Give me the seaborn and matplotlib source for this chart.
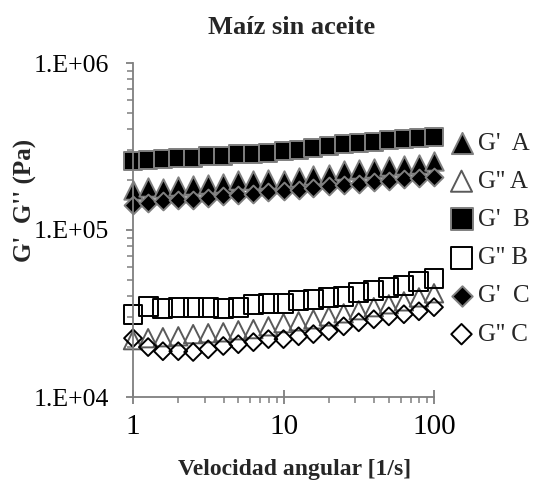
import matplotlib
matplotlib.use("Agg")
import matplotlib.pyplot as plt
from matplotlib.ticker import FixedLocator, FixedFormatter, LogLocator, NullFormatter
import pandas as pd
import seaborn as sns

# Angular frequency sweep (1/s)
freq = [1.0, 1.26, 1.58, 2.0, 2.51, 3.16, 3.98, 5.01, 6.31, 7.94, 10.0,
        12.6, 15.8, 20.0, 25.1, 31.6, 39.8, 50.1, 63.1, 79.4, 100.0]

# Storage (G') and loss (G'') moduli, Pa
g1_a = [174500, 181100, 179400, 183600, 185100, 189500, 192100, 198300, 200200, 203000, 200200,
        207800, 212400, 217400, 227500, 232900, 235100, 241700, 243700, 249500, 257400]
g2_a = [21900, 22500, 22800, 23100, 23800, 24100, 24400, 25100, 25500, 26500, 27700,
        28400, 29200, 30400, 31700, 33100, 34500, 35900, 37400, 39500, 41800]
g1_b = [260000, 261800, 265400, 269100, 270900, 276600, 278500, 284300, 286200, 290200, 296200,
        300300, 310800, 317300, 326100, 333000, 337600, 344600, 349400, 356700, 361600]
g2_b = [31300, 34900, 34000, 34500, 34500, 34500, 34000, 34500, 35900, 36400, 36400,
        37900, 38500, 39500, 40100, 42400, 43500, 45400, 46600, 49300, 51300]
g1_c = [142000, 145400, 148600, 150600, 152100, 155700, 159100, 162900, 165100, 168100, 170400,
        174500, 178600, 183100, 186900, 189500, 192900, 195600, 202100, 204900, 207800]
g2_c = [22500, 19900, 18800, 18800, 18600, 19300, 20200, 20700, 21300, 22200, 22200,
        23100, 23800, 24800, 26500, 28000, 29200, 30400, 31300, 32600, 34500]

series_labels = ["G'  A", "G'' A", "G'  B", "G'' B", "G'  C", "G'' C"]
x_ticks = [1, 10, 100]
x_tick_labels = ["1", "10", "100"]
y_ticks = [1e4, 1e5, 1e6]
y_tick_labels = ["1.E+04", "1.E+05", "1.E+06"]

title_text = "Maíz sin aceite"
x_label = "Velocidad angular [1/s]"
y_label = "G'  G'' (Pa)"

sns.set_style("white")
plt.rcParams["font.family"] = ["Liberation Serif", "DejaVu Serif"]

values = [g1_a, g2_a, g1_b, g2_b, g1_c, g2_c]
frames = [pd.DataFrame({"freq": freq, "modulus": v, "serie": lab})
          for v, lab in zip(values, series_labels)]
data = pd.concat(frames, ignore_index=True)

GRAY = "#7f7f7f"
# marker, face, edge, area (pt^2)
styles = {
    "G'  A": ("^", "black", GRAY, 175),
    "G'' A": ("^", "none", "#5a5a5a", 175),
    "G'  B": ("s", "black", GRAY, 185),
    "G'' B": ("s", "none", "black", 185),
    "G'  C": ("D", "black", GRAY, 82),
    "G'' C": ("D", "none", "black", 82),
}

fig = plt.figure(figsize=(5.49, 4.92), dpi=100)
ax = fig.add_axes([133 / 549, 1 - 397 / 492, (434 - 133) / 549, (397 - 63) / 492])

for lab in series_labels:
    mk, fc, ec, s = styles[lab]
    sub = data[data["serie"] == lab]
    sns.scatterplot(data=sub, x="freq", y="modulus", marker=mk, s=s,
                    facecolor=fc, edgecolor=ec, linewidth=1.4,
                    label=lab, legend=False, ax=ax, clip_on=False)

ax.set_xscale("log")
ax.set_yscale("log")
ax.set_xlim(1, 100)
ax.set_ylim(1e4, 1e6)

ax.xaxis.set_major_locator(FixedLocator(x_ticks))
ax.xaxis.set_major_formatter(FixedFormatter(x_tick_labels))
ax.xaxis.set_minor_locator(LogLocator(base=10, subs=range(2, 10)))
ax.xaxis.set_minor_formatter(NullFormatter())
ax.yaxis.set_major_locator(FixedLocator(y_ticks))
ax.yaxis.set_major_formatter(FixedFormatter(y_tick_labels))
ax.yaxis.set_minor_locator(LogLocator(base=10, subs=range(2, 10)))
ax.yaxis.set_minor_formatter(NullFormatter())

for side in ("top", "right"):
    ax.spines[side].set_visible(False)
for side in ("left", "bottom"):
    ax.spines[side].set_color(GRAY)
    ax.spines[side].set_linewidth(1.3)

ax.tick_params(axis="x", which="both", bottom=True)
ax.tick_params(axis="y", which="both", left=True)
ax.tick_params(axis="x", which="major", direction="inout", length=10, width=1.3,
               color=GRAY, labelsize=21, pad=7, labelcolor="black")
ax.tick_params(axis="x", which="minor", direction="out", length=4, width=1.1, color=GRAY)
ax.tick_params(axis="y", which="major", direction="out", length=5, width=1.3,
               color=GRAY, labelsize=18.5, pad=12, labelcolor="black")
ax.tick_params(axis="y", which="minor", direction="out", length=4, width=1.1, color=GRAY)

ax.set_xlabel("")
ax.set_ylabel("")
fig.text(292 / 549, 1 - 27 / 492, title_text, ha="center", va="center",
         fontsize=19, fontweight="bold")
fig.text(295 / 549, 1 - 470 / 492, x_label, ha="center", va="center",
         fontsize=17, fontweight="bold")
fig.text(25 / 549, 1 - 200 / 492, y_label, ha="center", va="center",
         rotation=90, fontsize=18, fontweight="bold")

handles, labels = ax.get_legend_handles_labels()
fig.legend(handles, labels, loc="upper left", bbox_to_anchor=(449 / 549, 1 - 132 / 492),
           frameon=False, fontsize=18, scatterpoints=1, markerscale=1.15, handlelength=1.0,
           handletextpad=0.15, labelspacing=0.63, borderpad=0, borderaxespad=0)

fig.savefig("out.png", dpi=100)
